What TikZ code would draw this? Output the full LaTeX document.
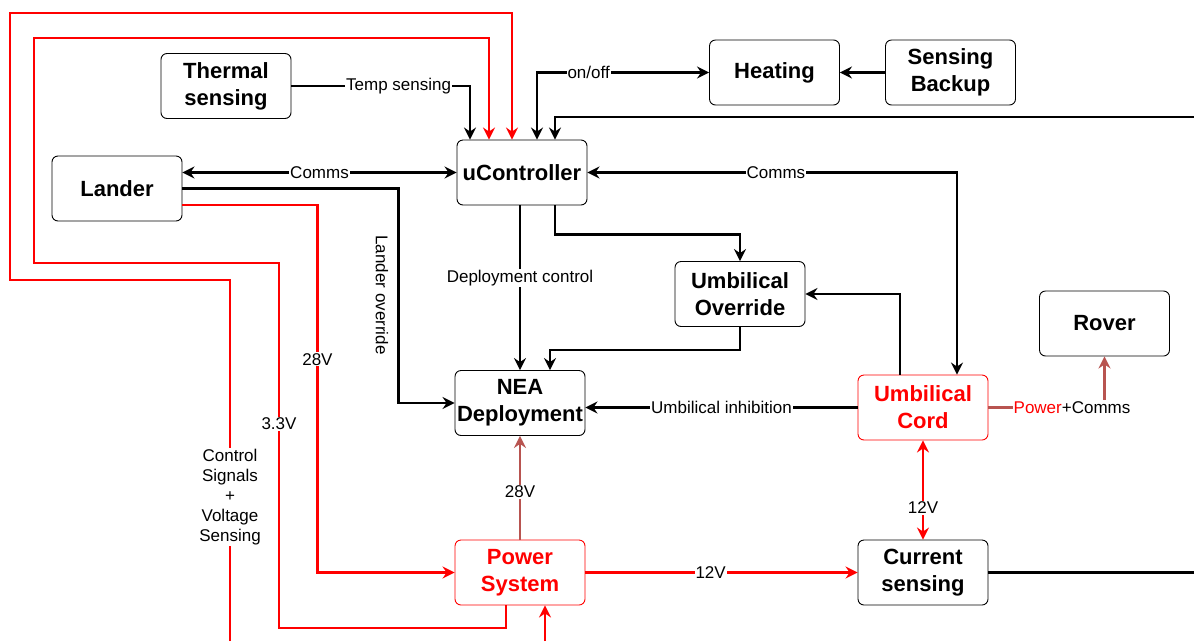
\documentclass[tikz,border=0pt]{standalone}
\usepackage{fontspec}
\setmainfont{Liberation Sans}
\usetikzlibrary{arrows.meta}
\definecolor{rd}{HTML}{FF0000}
\definecolor{br}{HTML}{B85450}
\begin{document}
\begin{tikzpicture}[x=1pt,y=-1pt,
  >={Stealth[length=12pt,width=12pt,inset=4pt]},
  box/.style={draw, fill=white, rounded corners=6pt, minimum width=130pt, minimum height=65pt,
    align=center, line width=0.9pt, inner sep=2pt, font=\bfseries\fontsize{22}{27}\selectfont},
  redbox/.style={box, draw=rd, text=rd},
  con/.style={line width=2.7pt},
  lbl/.style={fill=white, inner sep=1pt, text=black, font=\fontsize{17}{20}\selectfont}]
\fill[white] (0,0) rectangle (1194,641);
\useasboundingbox (0,0) rectangle (1194,641);

\node[box] (thermal) at (226,86) {Thermal\\sensing};
\node[box] (lander) at (117,188.5) {Lander};
\node[box] (uc) at (522,172.5) {uController};
\node[box] (heat) at (774.5,72.5) {Heating};
\node[box] (sb) at (950.5,72.5) {Sensing\\Backup};
\node[box] (uo) at (740,294) {Umbilical\\Override};
\node[box] (rover) at (1104.5,323.5) {Rover};
\node[box] (nea) at (520,403) {NEA\\Deployment};
\node[redbox] (cord) at (923,407.5) {Umbilical\\Cord};
\node[redbox] (ps) at (520,572.5) {Power\\System};
\node[box] (cs) at (923,572.5) {Current\\sensing};

\coordinate (csin) at (230,641);
\coordinate (psin) at (545,641);
\coordinate (rin) at (1194,117);
\coordinate (csout) at (1194,572.5);

\draw[con,->] (thermal.east) -| node[lbl,pos=0.3]{Temp sensing} ([xshift=-52pt]uc.north);
\draw[con,rd,->] (csin) -- node[lbl,pos=0.4,align=center]{Control\\Signals\\+\\Voltage\\Sensing} (230,280) -- (10,280) -- (10,13) -| ([xshift=-10pt]uc.north);
\draw[con,rd,->] ([xshift=-14pt]ps.south) |- (279,628) -- node[lbl,pos=0.56]{3.3V} (279,263) -- (34,263) -- (34,38) -| ([xshift=-33pt]uc.north);
\draw[con,rd,->] ([yshift=-16.5pt]lander.east) -- ++(135,0) |- node[lbl,pos=0.21]{28V} (ps.west);
\draw[con,<->] ([yshift=16pt]lander.east) -- node[lbl]{Comms} (uc.west);
\draw[con,->] (lander.east) -- ++(216,0) |- (nea.west);
\node[lbl,rotate=-90] (lo) at (382,295) {Lander override};
\draw[con,->] (nea.north |- uc.south) -- node[lbl,pos=0.44]{Deployment control} (nea.north);
\draw[con,->] ([xshift=33pt]uc.south) -- ++(0,29) -| (uo.north);
\draw[con,->] (uo.south) -- ++(0,23) -| ([xshift=30pt]nea.north);
\draw[con,->] ([xshift=-23pt]cord.north) |- (uo.east);
\draw[con,<->] (uc.east) -| node[lbl,pos=0.255]{Comms} ([xshift=34pt]cord.north);
\draw[con,<->] ([xshift=15pt]uc.north) |- node[lbl,pos=0.65]{on/off} (heat.west);
\draw[con,->] (rin) -| ([xshift=33pt]uc.north);
\draw[con,->] (sb.west) -- (heat.east);
\draw[con,->] (cord.west) -- node[lbl]{Umbilical inhibition} (cord.west -| nea.east);
\draw[con,br,->] (ps.north) -- node[lbl,pos=0.46]{28V} (nea.south);
\draw[con,rd,->] (ps.east) -- node[lbl,pos=0.46]{12V} (cs.west);
\draw[con,rd,<->] (cord.south) -- node[lbl,pos=0.68]{12V} (cs.north);
\draw[con,br,->] (cord.east) -| node[lbl,pos=0.36]{\textcolor{rd}{Power}+Comms} (rover.south);
\draw[con] (cs.east) -- (csout);
\draw[con,rd,->] (psin) -- ([xshift=25pt]ps.south);
\end{tikzpicture}
\end{document}
